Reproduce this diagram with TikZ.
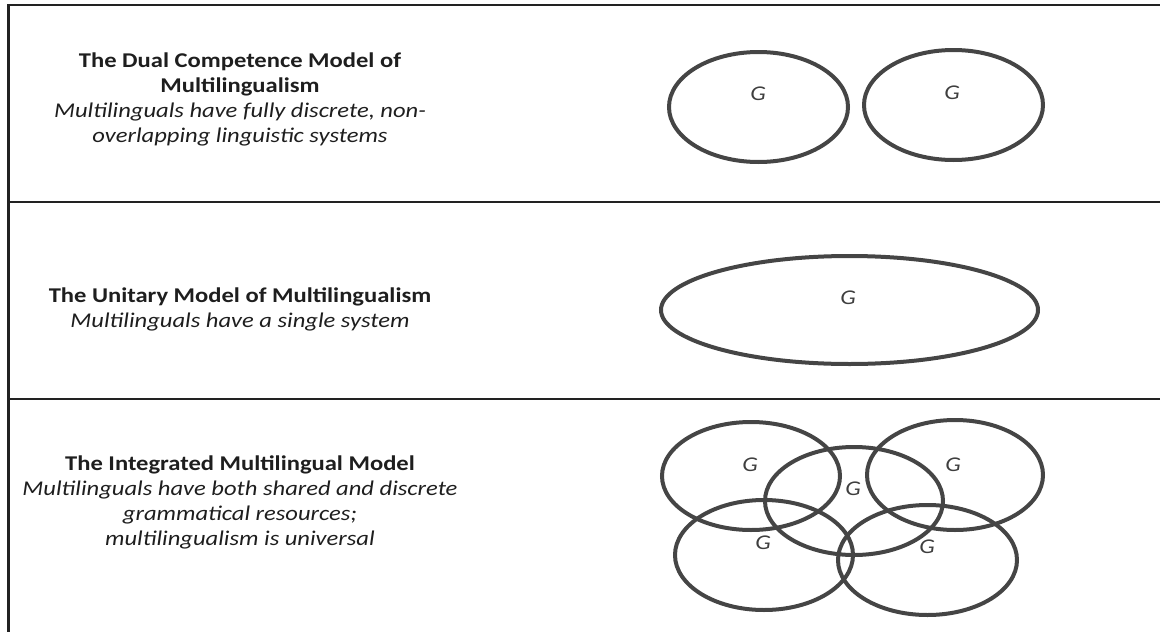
\documentclass[tikz,border=0pt]{standalone}
\usepackage{fontspec}
\setmainfont{Carlito}[FakeStretch=1.17]
\definecolor{framecol}{HTML}{222222}
\definecolor{ringcol}{HTML}{454545}
\definecolor{textcol}{HTML}{1E1E1E}
\begin{document}
\begin{tikzpicture}[x=1pt,y=-1pt,
  frameline/.style={draw=framecol,line width=2.4pt},
  ring/.style={draw=ringcol,line width=4pt},
  glabel/.style={inner sep=0pt,text=ringcol!90!black,font={\fontsize{21}{24}\selectfont\itshape}},
  caption/.style={inner sep=0pt,align=center,anchor=north,text=textcol,font={\fontsize{21}{25}\selectfont}}]
\useasboundingbox (0,0) rectangle (1160,632);
% frame
\coordinate (tl) at (8.5,5);
\coordinate (tr) at (1160,5);
\coordinate (bl) at (8.5,632);
\coordinate (d1l) at (8.5,202);
\coordinate (d1r) at (1160,202);
\coordinate (d2l) at (8.5,399);
\coordinate (d2r) at (1160,399);
\draw[frameline] (bl) -- (tl) -- (tr);
\draw[frameline] (d1l) -- (d1r);
\draw[frameline] (d2l) -- (d2r);
% captions
\node[caption] (cap1) at (240,53) {\textbf{The Dual Competence Model of}\\\textbf{Multilingualism}\\\textit{Multilinguals have fully discrete, non-}\\\textit{overlapping linguistic systems}};
\node[caption] (cap2) at (240,288) {\textbf{The Unitary Model of Multilingualism}\\\textit{Multilinguals have a single system}};
\node[caption] (cap3) at (240,456) {\textbf{The Integrated Multilingual Model}\\\textit{Multilinguals have both shared and discrete}\\\textit{grammatical resources;}\\\textit{multilingualism is universal}};
% dual competence
\draw[ring] (758.5,107) ellipse (89.5 and 55);
\draw[ring] (953.5,105) ellipse (89.5 and 55);
\node[glabel] (g1) at (758,94) {G};
\node[glabel] (g2) at (952,93) {G};
% unitary
\draw[ring] (849.5,310) ellipse (188.5 and 54);
\node[glabel] (g3) at (848,298) {G};
% integrated
\draw[ring] (751,476) ellipse (89 and 54);
\draw[ring] (854,501) ellipse (89 and 54);
\draw[ring] (955,475) ellipse (88 and 55);
\draw[ring] (764,555) ellipse (89 and 55);
\draw[ring] (927.5,560) ellipse (89.5 and 55);
\node[glabel] (g4) at (750,465) {G};
\node[glabel] (g5) at (853,489) {G};
\node[glabel] (g6) at (953,465) {G};
\node[glabel] (g7) at (763,543) {G};
\node[glabel] (g8) at (927,547) {G};
\end{tikzpicture}
\end{document}
